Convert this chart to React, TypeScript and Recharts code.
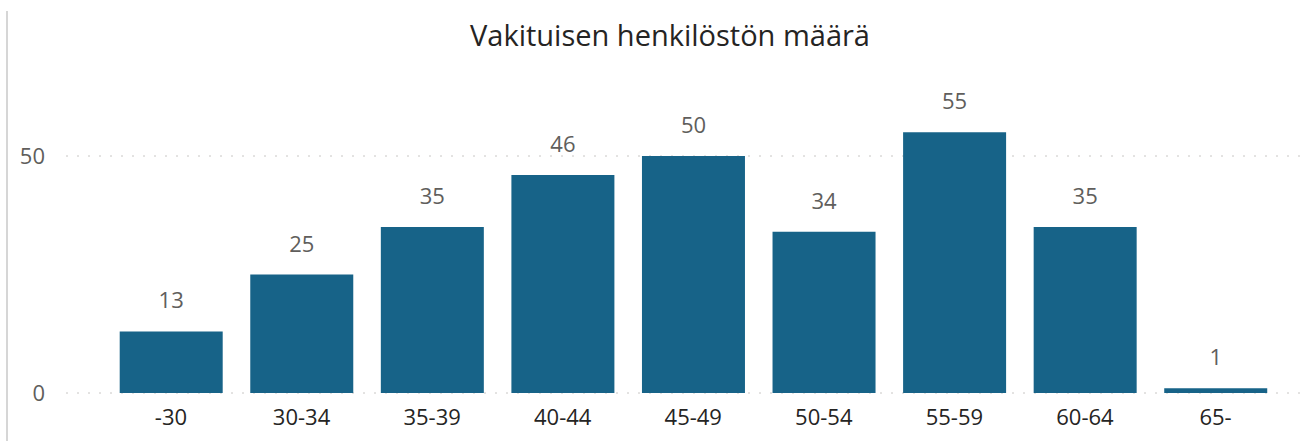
import { BarChart, Bar, XAxis, YAxis, CartesianGrid, LabelList } from 'recharts';

// age groups and headcount
const ageGroups = ['-30', '30-34', '35-39', '40-44', '45-49', '50-54', '55-59', '60-64', '65-'];
const headcount = [13, 25, 35, 46, 50, 34, 55, 35, 1];
const yTicks = [0, 50];

const chartData = ageGroups.map((group, i) => ({ group, count: headcount[i] }));

const font = '"Open Sans", "Noto Sans", sans-serif';

const App = () => {
  return (
    <div style={{ position: 'absolute', left: 0, top: 0, width: 1307, height: 441, background: '#fff', fontFamily: font }}>
      {/* thin frame line on the left edge */}
      <div style={{ position: 'absolute', left: 6, top: 11, width: 2, height: 430, background: '#d6d6d6' }} />
      <div
        style={{
          position: 'absolute',
          left: 0,
          width: 1340,
          top: 15,
          textAlign: 'center',
          fontSize: 29,
          color: '#252423',
          lineHeight: '40px',
        }}
      >
        Vakituisen henkilöstön määrä
      </div>
      <BarChart
        width={1307}
        height={441}
        data={chartData}
        margin={{ top: 108.6, right: 0, bottom: 0, left: 0 }}
        barSize={103}
      >
        <CartesianGrid vertical={false} horizontalValues={yTicks} stroke="#c8c6c4" strokeDasharray="2 9" />
        <XAxis
          dataKey="group"
          axisLine={false}
          tickLine={false}
          tickSize={0}
          tickMargin={16}
          height={48}
          padding={{ left: 39.7, right: 26.2 }}
          tick={{ fill: '#252423', fontSize: 22, fontFamily: font }}
          interval={0}
        />
        <YAxis
          domain={[0, 60]}
          ticks={yTicks}
          axisLine={false}
          tickLine={false}
          tickSize={0}
          tickMargin={21}
          width={66}
          tick={{ fill: '#605e5c', fontSize: 22, fontFamily: font }}
        />
        <Bar dataKey="count" fill="#176388" isAnimationActive={false}>
          <LabelList dataKey="count" position="top" offset={23} fill="#605e5c" fontSize={22} fontFamily={font} />
        </Bar>
      </BarChart>
    </div>
  );
};

export default App;
